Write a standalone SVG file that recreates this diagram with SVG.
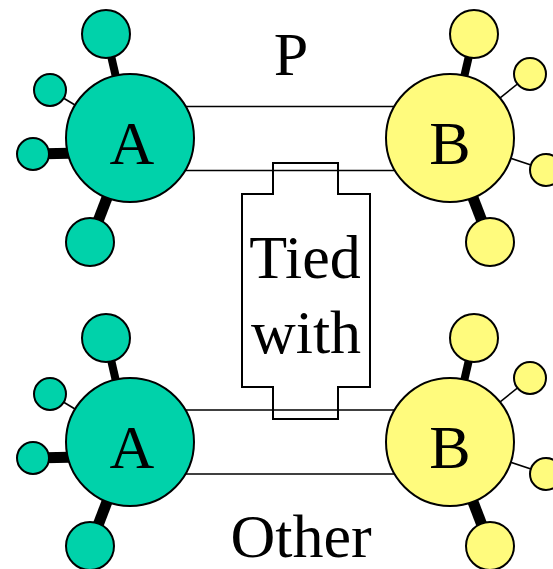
<svg xmlns="http://www.w3.org/2000/svg" width="553" height="569" viewBox="0 0 553 569">
  <style>
    .link { stroke: #000; fill: none; stroke-width: 1.6; }
    .thin { stroke: #000; stroke-width: 1.6; }
    .thick { stroke: #000; stroke-width: 8; }
    .heavy { stroke: #000; stroke-width: 11; }
    .a { fill: #00D2AA; stroke: #000; stroke-width: 2; }
    .b { fill: #FFFB7D; stroke: #000; stroke-width: 2; }
    .label { font-family: "Liberation Serif", "Times New Roman", serif; font-size: 62px; fill: #000; text-anchor: middle; }
    .tie { fill: #fff; stroke: #000; stroke-width: 2; }
  </style>
  <rect width="553" height="569" fill="#fff"/>

  <!-- tie box between the two pairs -->
  <g id="tie">
    <polygon class="tie" points="273,163 338,163 338,194 370,194 370,387 338,387 338,419 273,419 273,387 242,387 242,194 273,194"/>
    <text class="label" x="305" y="278">Tied</text>
    <text class="label" x="306" y="353">with</text>
  </g>

  <g id="connectors">
    <!-- pair links -->
    <line class="link" x1="150" y1="106.5" x2="430" y2="106.5"/>
    <line class="link" x1="150" y1="170.5" x2="430" y2="170.5"/>
    <line class="link" x1="150" y1="410" x2="430" y2="410"/>
    <line class="link" x1="150" y1="474" x2="430" y2="474"/>
    <!-- top A spokes -->
    <line class="thick" x1="106" y1="34" x2="130" y2="138"/>
    <line class="thin" x1="50" y1="90" x2="130" y2="138"/>
    <line class="heavy" x1="33" y1="154" x2="130" y2="152"/>
    <line class="heavy" x1="90" y1="242" x2="130" y2="138"/>
    <!-- top B spokes -->
    <line class="thick" x1="474" y1="34" x2="450" y2="138"/>
    <line class="thin" x1="530" y1="74" x2="450" y2="138"/>
    <line class="thin" x1="546" y1="170" x2="450" y2="138"/>
    <line class="heavy" x1="490" y1="242" x2="450" y2="138"/>
    <!-- bottom A spokes -->
    <line class="thick" x1="106" y1="338" x2="130" y2="442"/>
    <line class="thin" x1="50" y1="394" x2="130" y2="442"/>
    <line class="heavy" x1="33" y1="458" x2="130" y2="456"/>
    <line class="heavy" x1="90" y1="546" x2="130" y2="442"/>
    <!-- bottom B spokes -->
    <line class="thick" x1="474" y1="338" x2="450" y2="442"/>
    <line class="thin" x1="530" y1="378" x2="450" y2="442"/>
    <line class="thin" x1="546" y1="474" x2="450" y2="442"/>
    <line class="heavy" x1="490" y1="546" x2="450" y2="442"/>
  </g>

  <g id="A1">
    <circle class="a" cx="106" cy="34" r="24"/>
    <circle class="a" cx="50" cy="90" r="16"/>
    <circle class="a" cx="33" cy="154" r="16"/>
    <circle class="a" cx="90" cy="242" r="24"/>
    <circle class="a" cx="130" cy="138" r="64"/>
    <text class="label" x="132" y="164">A</text>
  </g>
  <g id="B1">
    <circle class="b" cx="474" cy="34" r="24"/>
    <circle class="b" cx="530" cy="74" r="16"/>
    <circle class="b" cx="546" cy="170" r="16"/>
    <circle class="b" cx="490" cy="242" r="24"/>
    <circle class="b" cx="450" cy="138" r="64"/>
    <text class="label" x="450" y="164">B</text>
  </g>
  <g id="A2">
    <circle class="a" cx="106" cy="338" r="24"/>
    <circle class="a" cx="50" cy="394" r="16"/>
    <circle class="a" cx="33" cy="458" r="16"/>
    <circle class="a" cx="90" cy="546" r="24"/>
    <circle class="a" cx="130" cy="442" r="64"/>
    <text class="label" x="132" y="468">A</text>
  </g>
  <g id="B2">
    <circle class="b" cx="474" cy="338" r="24"/>
    <circle class="b" cx="530" cy="378" r="16"/>
    <circle class="b" cx="546" cy="474" r="16"/>
    <circle class="b" cx="490" cy="546" r="24"/>
    <circle class="b" cx="450" cy="442" r="64"/>
    <text class="label" x="450" y="468">B</text>
  </g>

  <g id="labels">
    <text class="label" x="291" y="75">P</text>
    <text class="label" x="301" y="557">Other</text>
  </g>
</svg>
